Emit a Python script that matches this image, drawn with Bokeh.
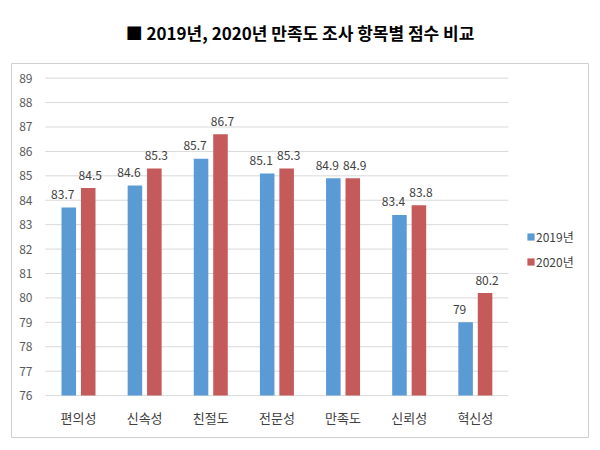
from bokeh.plotting import figure
from bokeh.models import ColumnDataSource, Range1d, FixedTicker, Legend, LegendItem
from bokeh.core.properties import value
from bokeh.embed import file_html
from bokeh.resources import INLINE

TITLE = "■ 2019년, 2020년 만족도 조사 항목별 점수 비교"
categories = ["편의성", "신속성", "친절도", "전문성", "만족도", "신뢰성", "혁신성"]
series_names = ["2019년", "2020년"]
scores_2019 = [83.7, 84.6, 85.7, 85.1, 84.9, 83.4, 79]
scores_2020 = [84.5, 85.3, 86.7, 85.3, 84.9, 83.8, 80.2]
y_ticks = list(range(76, 90))
y_min = 76

BLUE = "#5B9BD5"
RED = "#C55A5A"
KFONT = "Noto Sans CJK KR"
GRID = "#D9D9D9"
TXT = "#404040"

idx = list(range(len(categories)))
off = 0.147
bw = 0.22

src = ColumnDataSource(dict(
    x19=[i - off for i in idx],
    x20=[i + off for i in idx],
    y19=scores_2019,
    y20=scores_2020,
    l19=[f"{v:g}" for v in scores_2019],
    l20=[f"{v:g}" for v in scores_2020],
))

p = figure(width=592, height=441,
           x_range=Range1d(-1.013, 7.711), y_range=Range1d(74.284, 89.6),
           output_backend="svg", toolbar_location=None,
           min_border_left=11, min_border_right=4, min_border_top=62, min_border_bottom=4)

p.title.text = TITLE
p.title.align = "center"
p.title.vertical_align = "middle"
p.title.standoff = 36
p.title.text_font = KFONT
p.title.text_font_style = "bold"
p.title.text_font_size = "17px"
p.title.text_color = "#000000"

p.outline_line_color = "#CFCFCF"
p.grid.visible = False

# gridlines over the plot area
p.segment(x0=[-0.5] * len(y_ticks), x1=[len(categories) - 0.5] * len(y_ticks),
          y0=y_ticks, y1=y_ticks, line_color=GRID, line_width=1)

p.yaxis.ticker = FixedTicker(ticks=y_ticks)
p.yaxis.axis_line_color = None
p.yaxis.major_tick_line_color = None
p.yaxis.minor_tick_line_color = None
p.yaxis.major_tick_out = 0
p.yaxis.major_tick_in = 0
p.yaxis.major_label_standoff = -21
p.yaxis.major_label_text_font = KFONT
p.yaxis.major_label_text_font_size = "12px"
p.yaxis.major_label_text_color = "#595959"

p.xaxis.ticker = FixedTicker(ticks=idx)
p.xaxis.major_label_overrides = {i: c for i, c in zip(idx, categories)}
p.xaxis.axis_line_color = None
p.xaxis.major_tick_line_color = None
p.xaxis.minor_tick_line_color = None
p.xaxis.major_tick_out = 0
p.xaxis.major_tick_in = 0
p.xaxis.major_label_standoff = -30
p.xaxis.major_label_text_font = KFONT
p.xaxis.major_label_text_font_size = "13px"
p.xaxis.major_label_text_color = TXT

r19 = p.vbar(x="x19", top="y19", bottom=y_min, width=bw, source=src,
             fill_color=BLUE, line_color=None)
r20 = p.vbar(x="x20", top="y20", bottom=y_min, width=bw, source=src,
             fill_color=RED, line_color=None)

for xc, yc, lc, xo in (("x19", "y19", "l19", -6), ("x20", "y20", "l20", 2)):
    p.text(x=xc, y=yc, text=lc, source=src, x_offset=xo,
           text_align="center", text_baseline="middle", y_offset=-13,
           text_font=value(KFONT), text_font_size="12px", text_color=TXT)

legend = Legend(items=[LegendItem(label=series_names[0], renderers=[r19]),
                       LegendItem(label=series_names[1], renderers=[r20])],
                location=(515, 166), padding=0, margin=0, spacing=5,
                glyph_width=9, glyph_height=9, label_height=20, label_standoff=1,
                label_text_baseline="alphabetic",
                label_text_font=KFONT, label_text_font_size="12px", label_text_color=TXT,
                border_line_color=None, background_fill_alpha=0)
p.add_layout(legend)

open("out.html", "w").write(file_html(p, INLINE))
